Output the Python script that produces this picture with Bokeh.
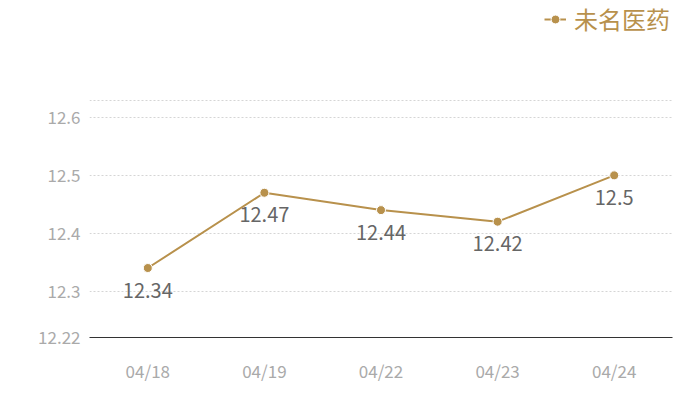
from bokeh.plotting import figure
from bokeh.models import FixedTicker, Legend, LegendItem, ColumnDataSource, Range1d, FactorRange
from bokeh.core.properties import value
from bokeh.embed import file_html
from bokeh.resources import INLINE

dates = ["04/18", "04/19", "04/22", "04/23", "04/24"]
prices = [12.34, 12.47, 12.44, 12.42, 12.5]
labels = ["12.34", "12.47", "12.44", "12.42", "12.5"]
series_name = "未名医药"
y_ticks = [12.22, 12.3, 12.4, 12.5, 12.6]
grid_ticks = [12.3, 12.4, 12.5, 12.6, 12.63]

GOLD = "#b8914c"
FONT = "Noto Sans CJK SC"

src = ColumnDataSource(dict(x=dates, y=prices, t=labels))

# frame spans from the top of the canvas so the legend (inside it) is not clipped
p = figure(width=692, height=392, x_range=FactorRange(*dates), y_range=Range1d(12.22, 12.802),
           output_backend="svg", toolbar_location=None,
           min_border_left=89, min_border_right=20, min_border_top=0, min_border_bottom=55)
p.outline_line_color = None
p.background_fill_color = "white"
p.border_fill_color = "white"

line = p.line("x", "y", source=src, line_color=GOLD, line_width=2)
pts = p.scatter("x", "y", source=src, size=9, fill_color=GOLD, line_color="white", line_width=1)
p.text("x", "y", text="t", source=src, y_offset=22, text_align="center", text_baseline="middle",
       text_color="#666666", text_font_size="20px", text_font=value(FONT))

# axes
p.yaxis.ticker = FixedTicker(ticks=y_ticks)
p.yaxis.axis_line_color = None
p.yaxis.major_tick_line_color = None
p.yaxis.minor_tick_line_color = None
p.yaxis.major_label_text_color = "#aaaaaa"
p.yaxis.major_label_text_font_size = "17px"
p.yaxis.major_label_text_font = FONT
p.yaxis.major_label_standoff = 3

p.xaxis.axis_line_color = "#333333"
p.xaxis.axis_line_width = 1
p.xaxis.major_tick_line_color = None
p.xaxis.minor_tick_line_color = None
p.xaxis.major_label_text_color = "#aaaaaa"
p.xaxis.major_label_text_font_size = "17px"
p.xaxis.major_label_text_font = FONT
p.xaxis.major_label_standoff = 14

p.xgrid.grid_line_color = None
p.ygrid.ticker = FixedTicker(ticks=grid_ticks)
p.ygrid.grid_line_color = "#d5d5d5"
p.ygrid.grid_line_dash = "2 2"
p.ygrid.grid_line_width = 1

legend = Legend(items=[LegendItem(label=series_name, renderers=[line, pts])],
                location=(455, 301), orientation="horizontal",
                label_text_font=FONT, label_text_font_size="24px", label_text_color=GOLD,
                glyph_width=22, glyph_height=26, label_standoff=8, label_height=26,
                border_line_color=None, background_fill_alpha=0,
                padding=0, margin=0)
p.add_layout(legend, "center")

open("out.html", "w").write(file_html(p, INLINE))
